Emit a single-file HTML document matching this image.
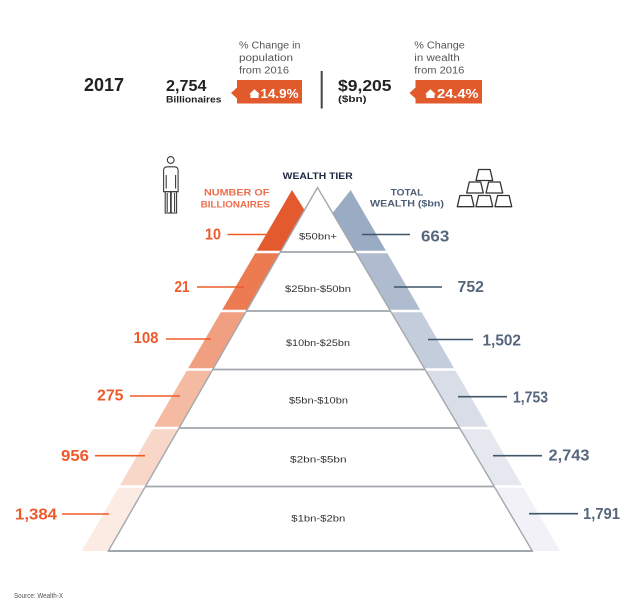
<!DOCTYPE html>
<html><head><meta charset="utf-8"><style>
html,body{margin:0;padding:0;background:#fff;}
svg{display:block;}
text{font-family:"Liberation Sans",sans-serif;}
</style></head><body>
<svg width="640" height="611" viewBox="0 0 640 611" xmlns="http://www.w3.org/2000/svg">
<rect width="640" height="611" fill="#fff"/>

<!-- Header -->
<text x="84" y="91" font-size="18.5" font-weight="bold" fill="#222" textLength="40" lengthAdjust="spacingAndGlyphs">2017</text>
<text x="166" y="91" font-size="16" font-weight="bold" fill="#222" textLength="40.5" lengthAdjust="spacingAndGlyphs">2,754</text>
<text x="166" y="102.5" font-size="9" font-weight="bold" fill="#222" textLength="55.5" lengthAdjust="spacingAndGlyphs">Billionaires</text>

<g font-size="10" fill="#555">
<text x="239" y="48.5" textLength="61.5" lengthAdjust="spacingAndGlyphs">% Change in</text>
<text x="239" y="61" textLength="54" lengthAdjust="spacingAndGlyphs">population</text>
<text x="239" y="73.5" textLength="50" lengthAdjust="spacingAndGlyphs">from 2016</text>
<text x="414.3" y="48.5" textLength="50.5" lengthAdjust="spacingAndGlyphs">% Change</text>
<text x="414.3" y="61" textLength="45.5" lengthAdjust="spacingAndGlyphs">in wealth</text>
<text x="414.3" y="73.5" textLength="50" lengthAdjust="spacingAndGlyphs">from 2016</text>
</g>

<!-- tag 1 -->
<path d="M231,93 L237,87.5 L237,80 L302,80 L302,103.5 L237,103.5 L237,98.5 Z" fill="#e15a2c"/>
<path d="M254.5,89.3 L259.8,94.2 L258.6,94.2 L258.6,98 L250.4,98 L250.4,94.2 L249.2,94.2 Z" fill="#fff"/>
<text x="260.5" y="98" font-size="13" font-weight="bold" fill="#fff" textLength="38" lengthAdjust="spacingAndGlyphs">14.9%</text>

<!-- divider -->
<rect x="320.7" y="71" width="2" height="37.5" fill="#444"/>

<text x="338" y="91" font-size="16" font-weight="bold" fill="#222" textLength="53.5" lengthAdjust="spacingAndGlyphs">$9,205</text>
<text x="338" y="102" font-size="9" font-weight="bold" fill="#222" textLength="28.5" lengthAdjust="spacingAndGlyphs">($bn)</text>

<!-- tag 2 -->
<path d="M409.5,93 L415.5,87.5 L415.5,80 L482,80 L482,103.5 L415.5,103.5 L415.5,98.5 Z" fill="#e15a2c"/>
<path d="M430.4,89.3 L435.7,94.2 L434.5,94.2 L434.5,98 L426.3,98 L426.3,94.2 L425.1,94.2 Z" fill="#fff"/>
<text x="437" y="98" font-size="13" font-weight="bold" fill="#fff" textLength="41.5" lengthAdjust="spacingAndGlyphs">24.4%</text>

<!-- Person icon -->
<g fill="none" stroke="#3a3a3a" stroke-width="1.1">
<circle cx="170.7" cy="160" r="3.4"/>
<path d="M163.6,191.7 L163.6,170.5 Q163.6,166.8 167.3,166.8 L174.4,166.8 Q178.1,166.8 178.1,170.5 L178.1,191.7 Z"/>
<path d="M166.2,175 L166.2,188.5 M175.6,175 L175.6,188.5"/>
<rect x="165.2" y="191.7" width="5.4" height="21.3"/>
<rect x="171.2" y="191.7" width="5.4" height="21.3"/>
<path d="M167.2,193 L167.2,212 M174.6,193 L174.6,212"/>
</g>

<!-- Gold bars icon -->
<g fill="none" stroke="#333" stroke-width="1.3" stroke-linejoin="round">
<path d="M478.6,169.5 L490.1,169.5 L492.7,180.5 L476,180.5 Z"/>
<path d="M469.3,182 L480.7,182 L483.3,193 L466.7,193 Z"/>
<path d="M488.6,182 L500.1,182 L502.7,193 L486,193 Z"/>
<path d="M459.9,195.5 L471.4,195.5 L474,206.7 L457.3,206.7 Z"/>
<path d="M478.6,195.5 L490.1,195.5 L492.7,206.7 L476,206.7 Z"/>
<path d="M497.6,195.5 L509.1,195.5 L511.7,206.7 L495,206.7 Z"/>
</g>

<!-- Headings -->
<text x="282.7" y="179" font-size="9.5" font-weight="bold" fill="#1f2640" textLength="70" lengthAdjust="spacingAndGlyphs">WEALTH TIER</text>
<text x="269.3" y="195.7" font-size="9" font-weight="bold" fill="#ec6e4c" text-anchor="end" textLength="65.3" lengthAdjust="spacingAndGlyphs">NUMBER OF</text>
<text x="270" y="207.3" font-size="9" font-weight="bold" fill="#ec6e4c" text-anchor="end" textLength="69.3" lengthAdjust="spacingAndGlyphs">BILLIONAIRES</text>
<text x="390.7" y="195.7" font-size="9" font-weight="bold" fill="#4d5e74" textLength="32.6" lengthAdjust="spacingAndGlyphs">TOTAL</text>
<text x="370" y="206.5" font-size="9" font-weight="bold" fill="#4d5e74" textLength="74" lengthAdjust="spacingAndGlyphs">WEALTH ($bn)</text>

<!-- Orange bands -->
<polygon points="292,190 304.55,210 280.38,252 255.88,252" fill="#e45a2f"/>
<polygon points="255.88,252 280.38,252 246.43,311 221.51,311" fill="#ec7b52"/>
<polygon points="221.51,311 246.43,311 212.76,369.5 187.42,369.5" fill="#f0a080"/>
<polygon points="187.42,369.5 212.76,369.5 179.09,428 153.34,428" fill="#f4bba2"/>
<polygon points="153.34,428 179.09,428 145.43,486.5 119.26,486.5" fill="#f8d6c8"/>
<polygon points="119.26,486.5 145.43,486.5 108.31,551 81.68,551" fill="#fcebe3"/>

<!-- Blue bands -->
<polygon points="350.7,190 332.57,213 355.62,252 386.66,252" fill="#9aabc4"/>
<polygon points="355.62,252 386.66,252 420.88,311 390.49,311" fill="#afbccf"/>
<polygon points="390.49,311 420.88,311 454.81,369.5 425.06,369.5" fill="#c4cddb"/>
<polygon points="425.06,369.5 454.81,369.5 488.74,428 459.64,428" fill="#d8dde7"/>
<polygon points="459.64,428 488.74,428 522.67,486.5 494.21,486.5" fill="#e6e8ef"/>
<polygon points="494.21,486.5 522.67,486.5 560.08,551 532.33,551" fill="#f2f1f7"/>

<!-- white gaps -->
<g stroke="#fff" stroke-width="2.6">
<line x1="60" y1="252" x2="580" y2="252"/>
<line x1="60" y1="311" x2="580" y2="311"/>
<line x1="60" y1="369.5" x2="580" y2="369.5"/>
<line x1="60" y1="428" x2="580" y2="428"/>
<line x1="60" y1="486.5" x2="580" y2="486.5"/>
</g>

<!-- central triangle -->
<polygon points="317.5,187.5 108.31,551 532.33,551" fill="#fff" stroke="#a3a8ae" stroke-width="1.4" stroke-linejoin="miter"/>
<g stroke="#a0a6ac" stroke-width="1.7">
<line x1="280.38" y1="252" x2="355.62" y2="252"/>
<line x1="246.43" y1="311" x2="390.49" y2="311"/>
<line x1="212.76" y1="369.5" x2="425.06" y2="369.5"/>
<line x1="179.09" y1="428" x2="459.64" y2="428"/>
<line x1="145.43" y1="486.5" x2="494.21" y2="486.5"/>
<line x1="108.31" y1="551" x2="532.33" y2="551" stroke-width="2"/>
</g>

<!-- tier labels -->
<g font-size="9" fill="#333" text-anchor="middle">
<text x="318" y="239.5" textLength="38" lengthAdjust="spacingAndGlyphs">$50bn+</text>
<text x="318" y="292" textLength="66" lengthAdjust="spacingAndGlyphs">$25bn-$50bn</text>
<text x="318" y="346" textLength="64" lengthAdjust="spacingAndGlyphs">$10bn-$25bn</text>
<text x="318.5" y="403.5" textLength="59" lengthAdjust="spacingAndGlyphs">$5bn-$10bn</text>
<text x="318.3" y="462.5" textLength="56.5" lengthAdjust="spacingAndGlyphs">$2bn-$5bn</text>
<text x="318.3" y="521.5" textLength="54" lengthAdjust="spacingAndGlyphs">$1bn-$2bn</text>
</g>

<!-- left leader lines -->
<g stroke="#ee5b2b" stroke-width="1.6">
<line x1="227.5" y1="234.5" x2="276" y2="234.5"/>
<line x1="197" y1="287" x2="244" y2="287"/>
<line x1="166" y1="339" x2="211" y2="339"/>
<line x1="130" y1="396" x2="180" y2="396"/>
<line x1="95" y1="455.7" x2="145" y2="455.7"/>
<line x1="62" y1="514" x2="109" y2="514"/>
</g>
<g font-size="15.5" font-weight="bold" fill="#ee5a2a" text-anchor="end">
<text x="221" y="239.5" textLength="16" lengthAdjust="spacingAndGlyphs">10</text>
<text x="189.5" y="292" textLength="15" lengthAdjust="spacingAndGlyphs">21</text>
<text x="158.5" y="343" textLength="25" lengthAdjust="spacingAndGlyphs">108</text>
<text x="123.5" y="400.5" textLength="26.5" lengthAdjust="spacingAndGlyphs">275</text>
<text x="89" y="461" textLength="28" lengthAdjust="spacingAndGlyphs">956</text>
<text x="57" y="519.5" textLength="42" lengthAdjust="spacingAndGlyphs">1,384</text>
</g>

<!-- right leader lines -->
<g stroke="#3f5569" stroke-width="1.6">
<line x1="362" y1="234.5" x2="410" y2="234.5"/>
<line x1="394" y1="287" x2="442" y2="287"/>
<line x1="428" y1="339.5" x2="473" y2="339.5"/>
<line x1="458" y1="396.7" x2="507" y2="396.7"/>
<line x1="493" y1="455.7" x2="542" y2="455.7"/>
<line x1="529" y1="513.7" x2="578" y2="513.7"/>
</g>
<g font-size="15.5" font-weight="bold" fill="#56667c">
<text x="421" y="241.5" textLength="28.3" lengthAdjust="spacingAndGlyphs">663</text>
<text x="457.5" y="292" textLength="26.5" lengthAdjust="spacingAndGlyphs">752</text>
<text x="482.5" y="345.5" textLength="38.5" lengthAdjust="spacingAndGlyphs">1,502</text>
<text x="513" y="402.5" textLength="35" lengthAdjust="spacingAndGlyphs">1,753</text>
<text x="548.5" y="460.5" textLength="41" lengthAdjust="spacingAndGlyphs">2,743</text>
<text x="583" y="519" textLength="37" lengthAdjust="spacingAndGlyphs">1,791</text>
</g>

<text x="14" y="598" font-size="7" fill="#555" textLength="49" lengthAdjust="spacingAndGlyphs">Source: Wealth-X</text>
</svg>
</body></html>
